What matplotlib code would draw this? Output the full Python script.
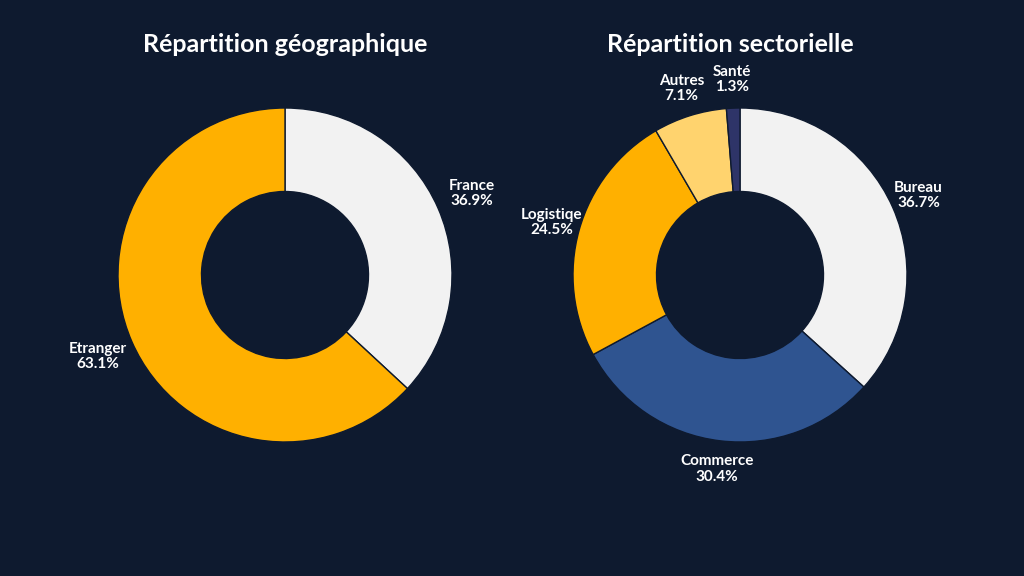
import matplotlib.pyplot as plt

bg = "#0E1A2F"
geo_labels = ["France", "Etranger"]
geo_values = [36.9, 63.1]
geo_colors = ["#F2F2F2", "#FFB000"]

sec_labels = ["Bureau", "Commerce", "Logistiqe", "Autres", "Santé"]
sec_values = [36.7, 30.4, 24.5, 7.1, 1.3]
sec_colors = ["#F2F2F2", "#2F5490", "#FFB000", "#FFD36E", "#2E3468"]

plt.rcParams['font.family'] = 'Lato'
fig = plt.figure(figsize=(10.24, 5.76), dpi=100, facecolor=bg)

w, h = 334 / 1024, 334 / 576
ax1 = fig.add_axes([285 / 1024 - w / 2, 1 - 275 / 576 - h / 2, w, h])
ax2 = fig.add_axes([740 / 1024 - w / 2, 1 - 275 / 576 - h / 2, w, h])


def donut(ax, labels, values, colors, dist):
    texts = [f"{l}\n{v:.1f}%" for l, v in zip(labels, values)]
    _, txt = ax.pie(values, colors=colors, startangle=90, counterclock=False,
                    labels=texts, labeldistance=dist,
                    wedgeprops=dict(width=0.5, edgecolor=bg, linewidth=1),
                    textprops=dict(color="white", fontsize=11, fontweight="bold",
                                   ha="center", va="center", linespacing=1.1))
    for t in txt:
        t.set_horizontalalignment("center")
        t.set_clip_on(False)
    ax.set_xlim(-1, 1)
    ax.set_ylim(-1, 1)
    ax.set_aspect("equal")
    ax.set_facecolor(bg)


donut(ax1, geo_labels, geo_values, geo_colors, 1.22)
donut(ax2, sec_labels, sec_values, sec_colors, 1.17)

fig.text(285 / 1024, 1 - 45 / 576, "Répartition géographique", color="white",
         fontsize=18, fontweight="bold", ha="center", va="center")
fig.text(730 / 1024, 1 - 45 / 576, "Répartition sectorielle", color="white",
         fontsize=18, fontweight="bold", ha="center", va="center")

fig.savefig("out.png", facecolor=bg)
